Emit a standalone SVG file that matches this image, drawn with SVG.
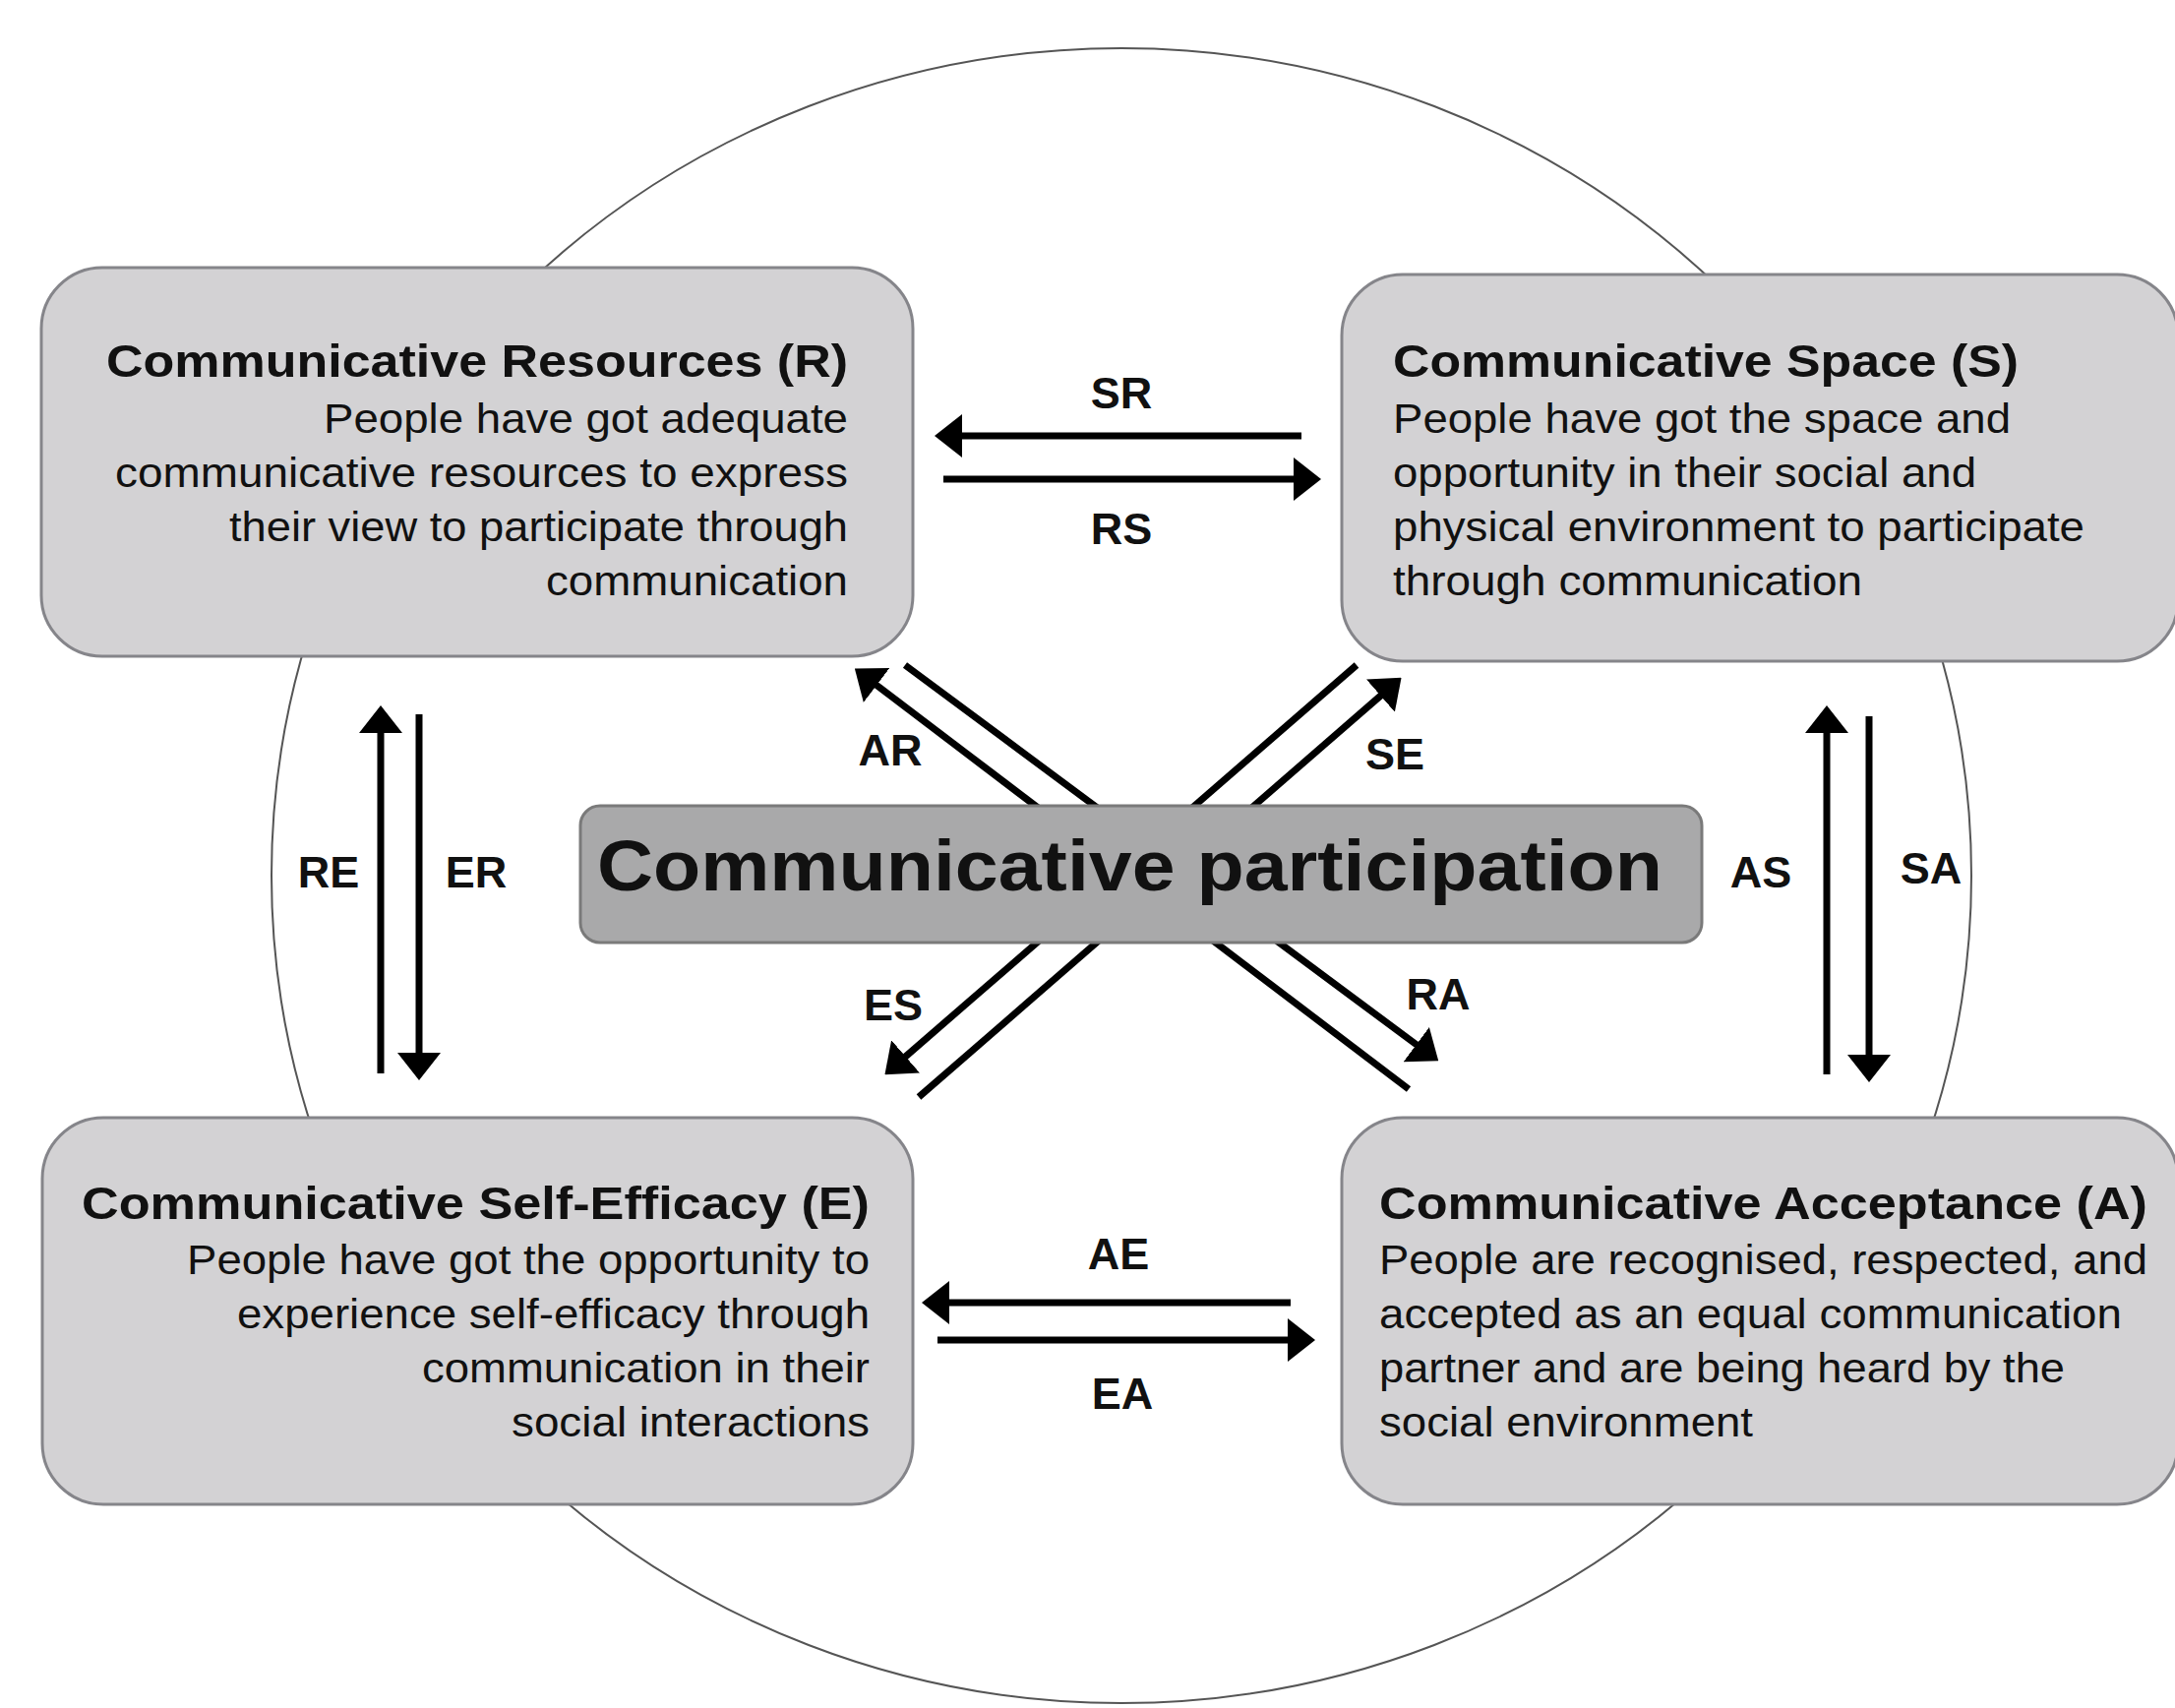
<svg xmlns="http://www.w3.org/2000/svg" width="2211" height="1736" viewBox="0 0 2211 1736">
<defs>
<style>
.box{fill:#d3d2d4;stroke:#85858a;stroke-width:3}
.cbox{fill:#a9a9aa;stroke:#7a7a7a;stroke-width:3}
.ttl{font-family:"Liberation Sans",Arial,sans-serif;font-weight:bold;font-size:47px;fill:#111}
.bd{font-family:"Liberation Sans",Arial,sans-serif;font-size:43px;fill:#111}
.lbl{font-family:"Liberation Sans",Arial,sans-serif;font-weight:bold;font-size:45px;fill:#111;text-anchor:middle}
.ctr{font-family:"Liberation Sans",Arial,sans-serif;font-weight:bold;font-size:72px;fill:#111}
.ar{fill:none;stroke:#000;stroke-width:7;marker-end:url(#head)}
</style>
<marker id="head" viewBox="0 0 28 44" refX="14" refY="22" markerWidth="28" markerHeight="44" markerUnits="userSpaceOnUse" orient="auto">
<path d="M0,0 L28,22 L0,44 Z" fill="#000"/>
</marker>
</defs>
<rect width="2211" height="1736" fill="#ffffff"/>
<ellipse id="circle" cx="1140" cy="890" rx="864" ry="841" fill="none" stroke="#555" stroke-width="2"/>
<g id="connectors">
<line class="ar" x1="1323" y1="443" x2="964" y2="443"/>
<line class="ar" x1="959" y1="487" x2="1329" y2="487"/>
<line class="ar" x1="1312" y1="1324" x2="951" y2="1324"/>
<line class="ar" x1="953" y1="1362" x2="1323" y2="1362"/>
<line class="ar" x1="387" y1="1091" x2="387" y2="731"/>
<line class="ar" x1="426" y1="726" x2="426" y2="1084"/>
<line class="ar" x1="1857" y1="1092" x2="1857" y2="731"/>
<line class="ar" x1="1900" y1="728" x2="1900" y2="1086"/>
<line class="ar" x1="1432" y1="1107" x2="880" y2="688"/>
<line class="ar" x1="920" y1="676" x2="1451" y2="1070"/>
<line class="ar" x1="1379" y1="676" x2="910" y2="1083"/>
<line class="ar" x1="934" y1="1115" x2="1414" y2="698"/>
<text class="lbl" x="1140" y="415">SR</text>
<text class="lbl" x="1140" y="553">RS</text>
<text class="lbl" x="1137" y="1290">AE</text>
<text class="lbl" x="1141" y="1432">EA</text>
<text class="lbl" x="334" y="902">RE</text>
<text class="lbl" x="484" y="902">ER</text>
<text class="lbl" x="1790" y="902">AS</text>
<text class="lbl" x="1963" y="898">SA</text>
<text class="lbl" x="905" y="778">AR</text>
<text class="lbl" x="1418" y="782">SE</text>
<text class="lbl" x="908" y="1037">ES</text>
<text class="lbl" x="1462" y="1026">RA</text>
</g>
<g id="node-R">
<rect class="box" x="42" y="272" width="886" height="395" rx="62"/>
<text class="ttl" x="108" y="383" textLength="754" lengthAdjust="spacingAndGlyphs">Communicative Resources (R)</text>
<text class="bd" x="329" y="440" textLength="533" lengthAdjust="spacingAndGlyphs">People have got adequate</text>
<text class="bd" x="117" y="495" textLength="745" lengthAdjust="spacingAndGlyphs">communicative resources to express</text>
<text class="bd" x="233" y="550" textLength="629" lengthAdjust="spacingAndGlyphs">their view to participate through</text>
<text class="bd" x="555" y="605" textLength="307" lengthAdjust="spacingAndGlyphs">communication</text>
</g>
<g id="node-S">
<rect class="box" x="1364" y="279" width="850" height="393" rx="62"/>
<text class="ttl" x="1416" y="383" textLength="636" lengthAdjust="spacingAndGlyphs">Communicative Space (S)</text>
<text class="bd" x="1416" y="440" textLength="628" lengthAdjust="spacingAndGlyphs">People have got the space and</text>
<text class="bd" x="1416" y="495" textLength="593" lengthAdjust="spacingAndGlyphs">opportunity in their social and</text>
<text class="bd" x="1416" y="550" textLength="703" lengthAdjust="spacingAndGlyphs">physical environment to participate</text>
<text class="bd" x="1416" y="605" textLength="477" lengthAdjust="spacingAndGlyphs">through communication</text>
</g>
<g id="node-E">
<rect class="box" x="43" y="1136" width="885" height="393" rx="62"/>
<text class="ttl" x="83" y="1239" textLength="801" lengthAdjust="spacingAndGlyphs">Communicative Self-Efficacy (E)</text>
<text class="bd" x="190" y="1295" textLength="694" lengthAdjust="spacingAndGlyphs">People have got the opportunity to</text>
<text class="bd" x="241" y="1350" textLength="643" lengthAdjust="spacingAndGlyphs">experience self-efficacy through</text>
<text class="bd" x="429" y="1405" textLength="455" lengthAdjust="spacingAndGlyphs">communication in their</text>
<text class="bd" x="520" y="1460" textLength="364" lengthAdjust="spacingAndGlyphs">social interactions</text>
</g>
<g id="node-A">
<rect class="box" x="1364" y="1136" width="850" height="393" rx="62"/>
<text class="ttl" x="1402" y="1239" textLength="781" lengthAdjust="spacingAndGlyphs">Communicative Acceptance (A)</text>
<text class="bd" x="1402" y="1295" textLength="781" lengthAdjust="spacingAndGlyphs">People are recognised, respected, and</text>
<text class="bd" x="1402" y="1350" textLength="755" lengthAdjust="spacingAndGlyphs">accepted as an equal communication</text>
<text class="bd" x="1402" y="1405" textLength="697" lengthAdjust="spacingAndGlyphs">partner and are being heard by the</text>
<text class="bd" x="1402" y="1460" textLength="380" lengthAdjust="spacingAndGlyphs">social environment</text>
</g>
<g id="node-P">
<rect class="cbox" x="590" y="819" width="1140" height="139" rx="20"/>
<text class="ctr" x="607" y="905" textLength="1083" lengthAdjust="spacingAndGlyphs">Communicative participation</text>
</g>
</svg>
